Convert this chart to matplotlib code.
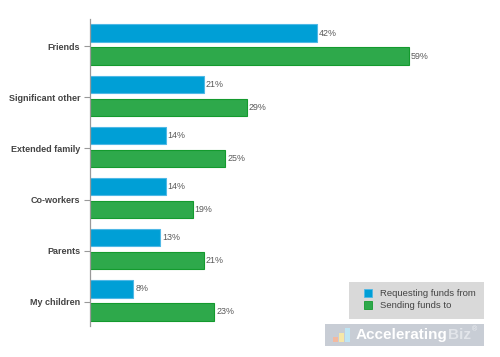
import numpy as np
import matplotlib
matplotlib.use('Agg')
import matplotlib.pyplot as plt
from matplotlib.patches import Rectangle

plt.rcParams['font.family'] = ['Liberation Sans', 'DejaVu Sans']

# dados
categorias = ['Friends', 'Significant other', 'Extended family',
              'Co-workers', 'Parents', 'My children']
pedindo = [42, 21, 14, 14, 13, 8]
enviando = [59, 29, 25, 19, 21, 23]
serie_nomes = ['Requesting funds from', 'Sending funds to']

cor_azul = '#009fd6'
cor_azul_borda = '#4fb8e6'
cor_verde = '#2ea94b'
cor_verde_borda = '#149a2e'
cor_texto = '#5a5a5a'

fig = plt.figure(figsize=(5.0, 3.57), dpi=100)
ax = fig.add_axes([0.18, 0.0868, 0.779, 0.86])

y = np.arange(len(categorias))
alt = 0.34
ax.barh(y - 0.225, pedindo, height=alt, color=cor_azul,
        edgecolor=cor_azul_borda, linewidth=0.8)
ax.barh(y + 0.225, enviando, height=alt, color=cor_verde,
        edgecolor=cor_verde_borda, linewidth=0.8)

for i in range(len(categorias)):
    ax.text(pedindo[i] + 0.35, y[i] - 0.225, f'{pedindo[i]}%', va='center',
            ha='left', fontsize=6.4, color=cor_texto)
    ax.text(enviando[i] + 0.35, y[i] + 0.225, f'{enviando[i]}%', va='center',
            ha='left', fontsize=6.4, color=cor_texto)

ax.set_xlim(0, 72)
ax.set_ylim(len(categorias) - 0.5, -0.5)
ax.set_yticks(y + 0.03)
ax.set_yticklabels(categorias, fontsize=6.5, fontweight='bold', color='#444444')
ax.tick_params(axis='y', length=4, width=0.8, color='#999999', pad=3)
ax.set_xticks([])
for lado in ['top', 'right', 'bottom']:
    ax.spines[lado].set_visible(False)
ax.spines['left'].set_color('#999999')
ax.spines['left'].set_linewidth(0.9)

# legenda manual
W, H = 500.0, 357.0
def fx(px):
    return px / W
def fy(py):
    return 1 - py / H

fig.patches.append(Rectangle((fx(349), fy(319)), 135 / W, 37 / H,
                             transform=fig.transFigure, facecolor='#d9d9d9',
                             edgecolor='none'))
for k, (cor, borda) in enumerate([(cor_azul, cor_azul_borda),
                                  (cor_verde, cor_verde_borda)]):
    top = 289 + k * 12
    fig.patches.append(Rectangle((fx(364), fy(top + 8)), 8 / W, 8 / H,
                                 transform=fig.transFigure, facecolor=cor,
                                 edgecolor=borda, linewidth=0.6))
    fig.text(fx(380), fy(top + 4), serie_nomes[k], fontsize=6.8,
             color='#444444', va='center', ha='left')

# marca d'agua
fig.patches.append(Rectangle((fx(325), fy(346)), 159 / W, 22 / H,
                             transform=fig.transFigure, facecolor='#c8cdd5',
                             edgecolor='none'))
for j, (h, c) in enumerate([(5, '#f3b9a0'), (9, '#f6e7a8'), (14, '#bfe6f5')]):
    fig.patches.append(Rectangle((fx(333 + j * 6), fy(342)), 5 / W, h / H,
                                 transform=fig.transFigure, facecolor=c,
                                 edgecolor='none'))
t1 = fig.text(fx(356), fy(335), 'Accelerating', fontsize=11, fontweight='bold',
              color='white', va='center', ha='left')
fig.canvas.draw()
bb = t1.get_window_extent()
t2 = fig.text(bb.x1 / fig.bbox.width, fy(335), 'Biz', fontsize=11,
              fontweight='bold', color='#e2e5ea', va='center', ha='left')
fig.canvas.draw()
bb2 = t2.get_window_extent()
fig.text(bb2.x1 / fig.bbox.width + 0.002, fy(330), '®', fontsize=5,
         color='#eef0f3', va='center', ha='left')

fig.savefig('out.png', dpi=100, facecolor='white')
